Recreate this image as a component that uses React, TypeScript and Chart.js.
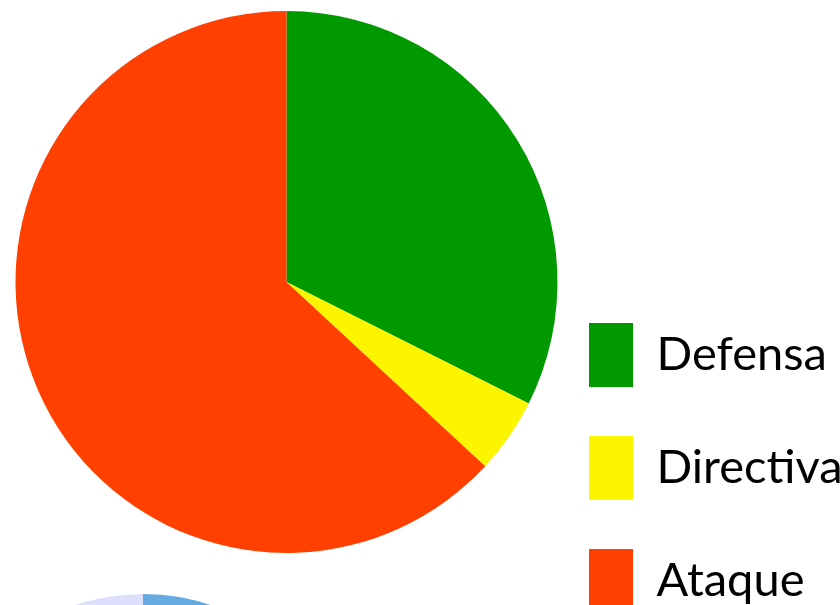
import React, { useEffect, useRef } from 'react';
import { Chart, registerables } from 'chart.js';

Chart.register(...registerables);

// Main pie
const categories = ['Defensa', 'Directiva', 'Ataque'];
const shares = [32.4, 4.5, 63.1];
const sliceColors = ['#009900', '#fcf500', '#ff4000'];

// Second pie (only its top edge is visible)
const secondCategories = ['A', 'B'];
const secondShares = [45, 55];
const secondColors = ['#66aae2', '#dddffc'];

export default function App() {
  const mainRef = useRef<HTMLCanvasElement | null>(null);
  const secondRef = useRef<HTMLCanvasElement | null>(null);

  useEffect(() => {
    const charts: Chart[] = [];
    if (mainRef.current) {
      charts.push(
        new Chart(mainRef.current, {
          type: 'pie',
          data: {
            labels: categories,
            datasets: [
              {
                data: shares,
                backgroundColor: sliceColors,
                borderWidth: 0,
                radius: 271,
                clip: false,
              } as any,
            ],
          },
          options: {
            responsive: false,
            animation: false,
            layout: { padding: { left: 33, right: 0, top: 0, bottom: 0 } },
            plugins: {
              legend: {
                position: 'right',
                align: 'end',
                maxWidth: 300,
                labels: {
                  boxWidth: 44,
                  boxHeight: 64,
                  padding: 49,
                  color: '#000',
                  font: { family: 'Lato', size: 47 },
                },
              },
              tooltip: { enabled: false },
            },
          } as any,
        })
      );
    }
    if (secondRef.current) {
      charts.push(
        new Chart(secondRef.current, {
          type: 'pie',
          data: {
            labels: secondCategories,
            datasets: [
              {
                data: secondShares,
                backgroundColor: secondColors,
                borderWidth: 0,
              },
            ],
          },
          options: {
            responsive: false,
            animation: false,
            plugins: {
              legend: { display: false },
              tooltip: { enabled: false },
            },
          },
        })
      );
    }
    return () => charts.forEach((c) => c.destroy());
  }, []);

  return (
    <div
      style={{
        position: 'fixed',
        left: 0,
        top: 0,
        width: 840,
        height: 605,
        overflow: 'hidden',
        background: '#fff',
      }}
    >
      <canvas
        ref={mainRef}
        width={840}
        height={760}
        style={{ position: 'absolute', left: 0, top: -98 }}
      />
      <canvas
        ref={secondRef}
        width={432}
        height={432}
        style={{ position: 'absolute', left: -73, top: 594 }}
      />
    </div>
  );
}
